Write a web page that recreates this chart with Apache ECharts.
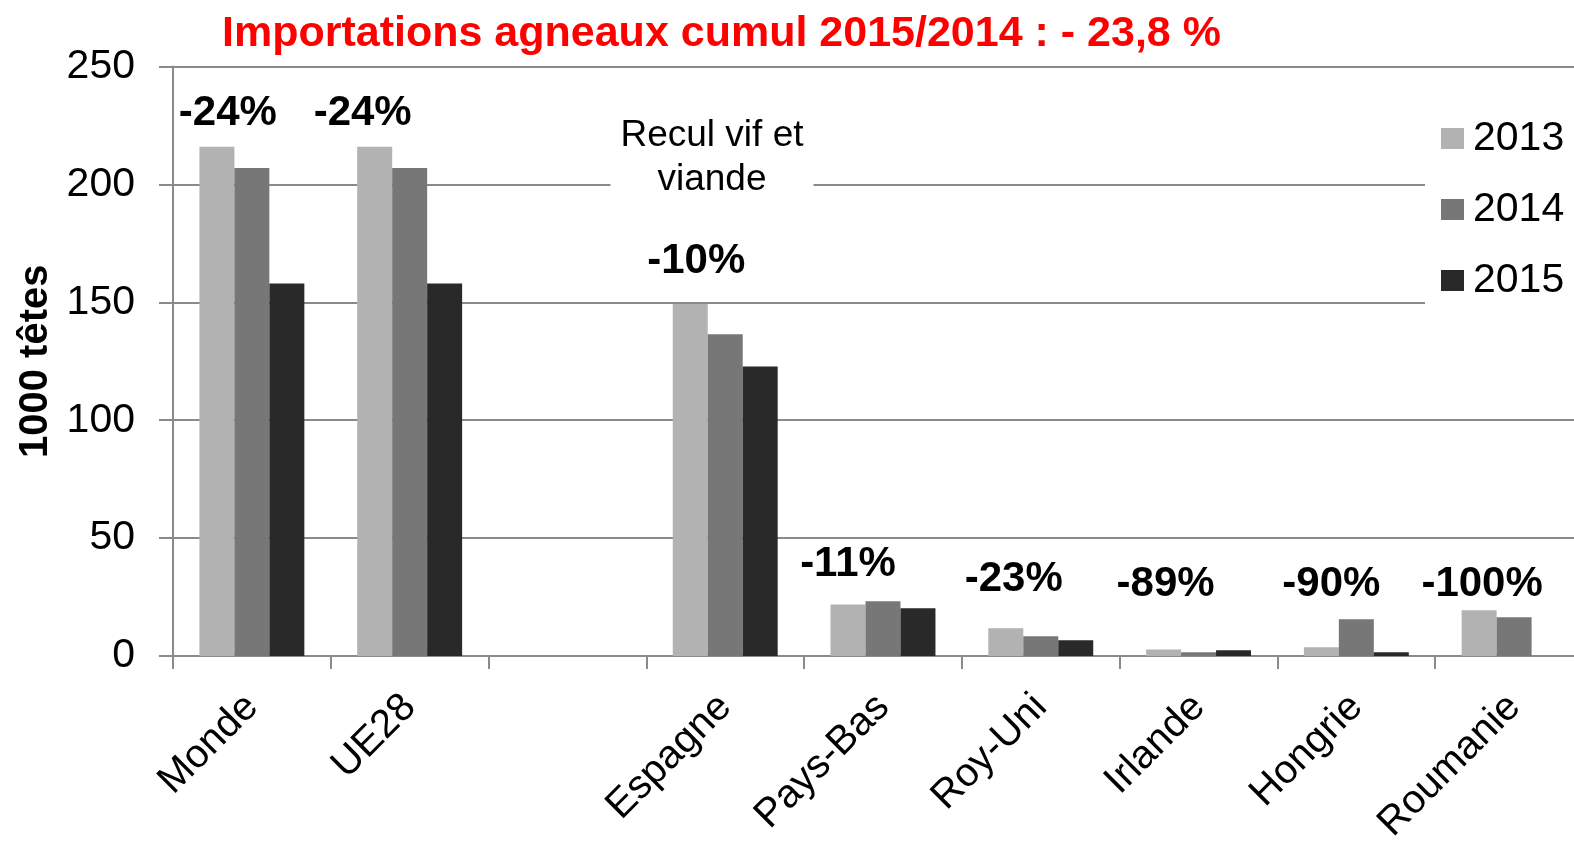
<!DOCTYPE html>
<html>
<head>
<meta charset="utf-8">
<script src="https://cdn.jsdelivr.net/npm/echarts@6.0.0/dist/echarts.min.js"></script>
<style>
html,body{margin:0;padding:0;background:#fff;}
#chart{width:1574px;height:842px;}
</style>
</head>
<body>
<div id="chart"></div>
<script>
// données (1000 têtes)
var categories = ['Monde','UE28','','Espagne','Pays-Bas','Roy-Uni','Irlande','Hongrie','Roumanie'];
var years = ['2013','2014','2015'];
var values2013 = [216, 216, null, 149.3, 21.8, 11.8, 2.8, 3.7, 19.4];
var values2014 = [207, 207, null, 136.4, 23.2, 8.4, 1.6, 15.6, 16.4];
var values2015 = [158, 158, null, 122.8, 20.2, 6.7, 2.4, 1.6, 0];
var yTicks = [0, 50, 100, 150, 200, 250];

// évolution 2015/2014 affichée au-dessus de chaque groupe
var changeCats = ['Monde','UE28','Espagne','Pays-Bas','Roy-Uni','Irlande','Hongrie','Roumanie'];
var changeTexts = ['-24%','-24%','-10%','-11%','-23%','-89%','-90%','-100%'];
var changeLevels = [230, 230, 167.5, 39, 32.5, 30.5, 30.5, 30.5];
var changeShiftX = [-24, -47, -29, -35, -27, -33, -25, -32];

var COLOR = {
	Y2013:'#b2b2b2',
	Y2014:'#777777',
	Y2015:'#292929',
	GRID:'#8a8a8a'
};
var FONT = 'Liberation Sans, Arial, sans-serif';

var chart = echarts.init(document.getElementById('chart'));

var labelData = changeCats.map(function(c, i){
	return {
		value:[c, changeLevels[i]],
		label:{offset:[changeShiftX[i], 0]}
	};
});

function barSeries(name, data, color){
	return {
		name:name,
		type:'bar',
		data:data,
		barGap:'0%',
		barCategoryGap:'33.5%',
		itemStyle:{color:color},
		emphasis:{disabled:true}
	};
}

chart.setOption({
	backgroundColor:'#fff',
	animation:false,
	title:{
		text:'Importations agneaux cumul 2015/2014 : - 23,8 %',
		left:222,
		top:13,
		padding:0,
		textStyle:{color:'#ff0000', fontSize:43, fontWeight:'bold', fontFamily:FONT}
	},
	legend:{
		data:years,
		orient:'vertical',
		left:1425,
		top:101,
		padding:[17, 200, 15, 16],
		backgroundColor:'#fff',
		icon:'rect',
		itemWidth:23,
		itemHeight:21,
		itemGap:30,
		selectedMode:false,
		textStyle:{color:'#000', fontSize:41, fontFamily:FONT, lineHeight:40, padding:[0,0,0,4]}
	},
	grid:{
		left:173,
		top:66.5,
		bottom:186,
		right:-19,
		containLabel:false,
		outerBoundsMode:'none'
	},
	xAxis:{
		type:'category',
		data:categories,
		axisLine:{show:true, lineStyle:{color:COLOR.GRID, width:2}},
		axisTick:{show:true, length:13, interval:0, lineStyle:{color:COLOR.GRID, width:2}},
		axisLabel:{
			interval:0,
			rotate:45,
			margin:45,
			color:'#000',
			fontSize:40,
			fontFamily:FONT
		},
		splitLine:{show:false}
	},
	yAxis:{
		type:'value',
		min:yTicks[0],
		max:yTicks[yTicks.length-1],
		interval:yTicks[1]-yTicks[0],
		name:'1000 têtes',
		nameLocation:'middle',
		nameGap:117,
		nameTextStyle:{color:'#000', fontSize:40, fontWeight:'bold', fontFamily:FONT},
		axisLine:{show:true, lineStyle:{color:COLOR.GRID, width:2}},
		axisTick:{show:true, length:14, lineStyle:{color:COLOR.GRID, width:2}},
		axisLabel:{color:'#000', fontSize:41, fontFamily:FONT, margin:38},
		splitLine:{show:true, lineStyle:{color:COLOR.GRID, width:2}}
	},
	graphic:[{
		type:'text',
		z:100,
		x:712,
		y:158,
		style:{
			text:'Recul vif et\nviande',
			fill:'#000',
			font:'37px ' + FONT,
			lineHeight:44,
			align:'center',
			verticalAlign:'middle',
			backgroundColor:'#fff',
			padding:[8, 10, 8, 10]
		}
	}],
	series:[
		barSeries('2013', values2013, COLOR.Y2013),
		barSeries('2014', values2014, COLOR.Y2014),
		barSeries('2015', values2015, COLOR.Y2015),
		{
			name:'evolution',
			type:'scatter',
			data:labelData,
			symbol:'circle',
			symbolSize:0.01,
			itemStyle:{color:'#000', opacity:1},
			silent:true,
			z:10,
			label:{
				show:true,
				position:'inside',
				color:'#000',
				opacity:1,
				textBorderWidth:0,
				fontSize:42,
				fontWeight:'bold',
				fontFamily:FONT,
				formatter:function(p){ return changeTexts[p.dataIndex]; }
			}
		}
	]
});
</script>
</body>
</html>
